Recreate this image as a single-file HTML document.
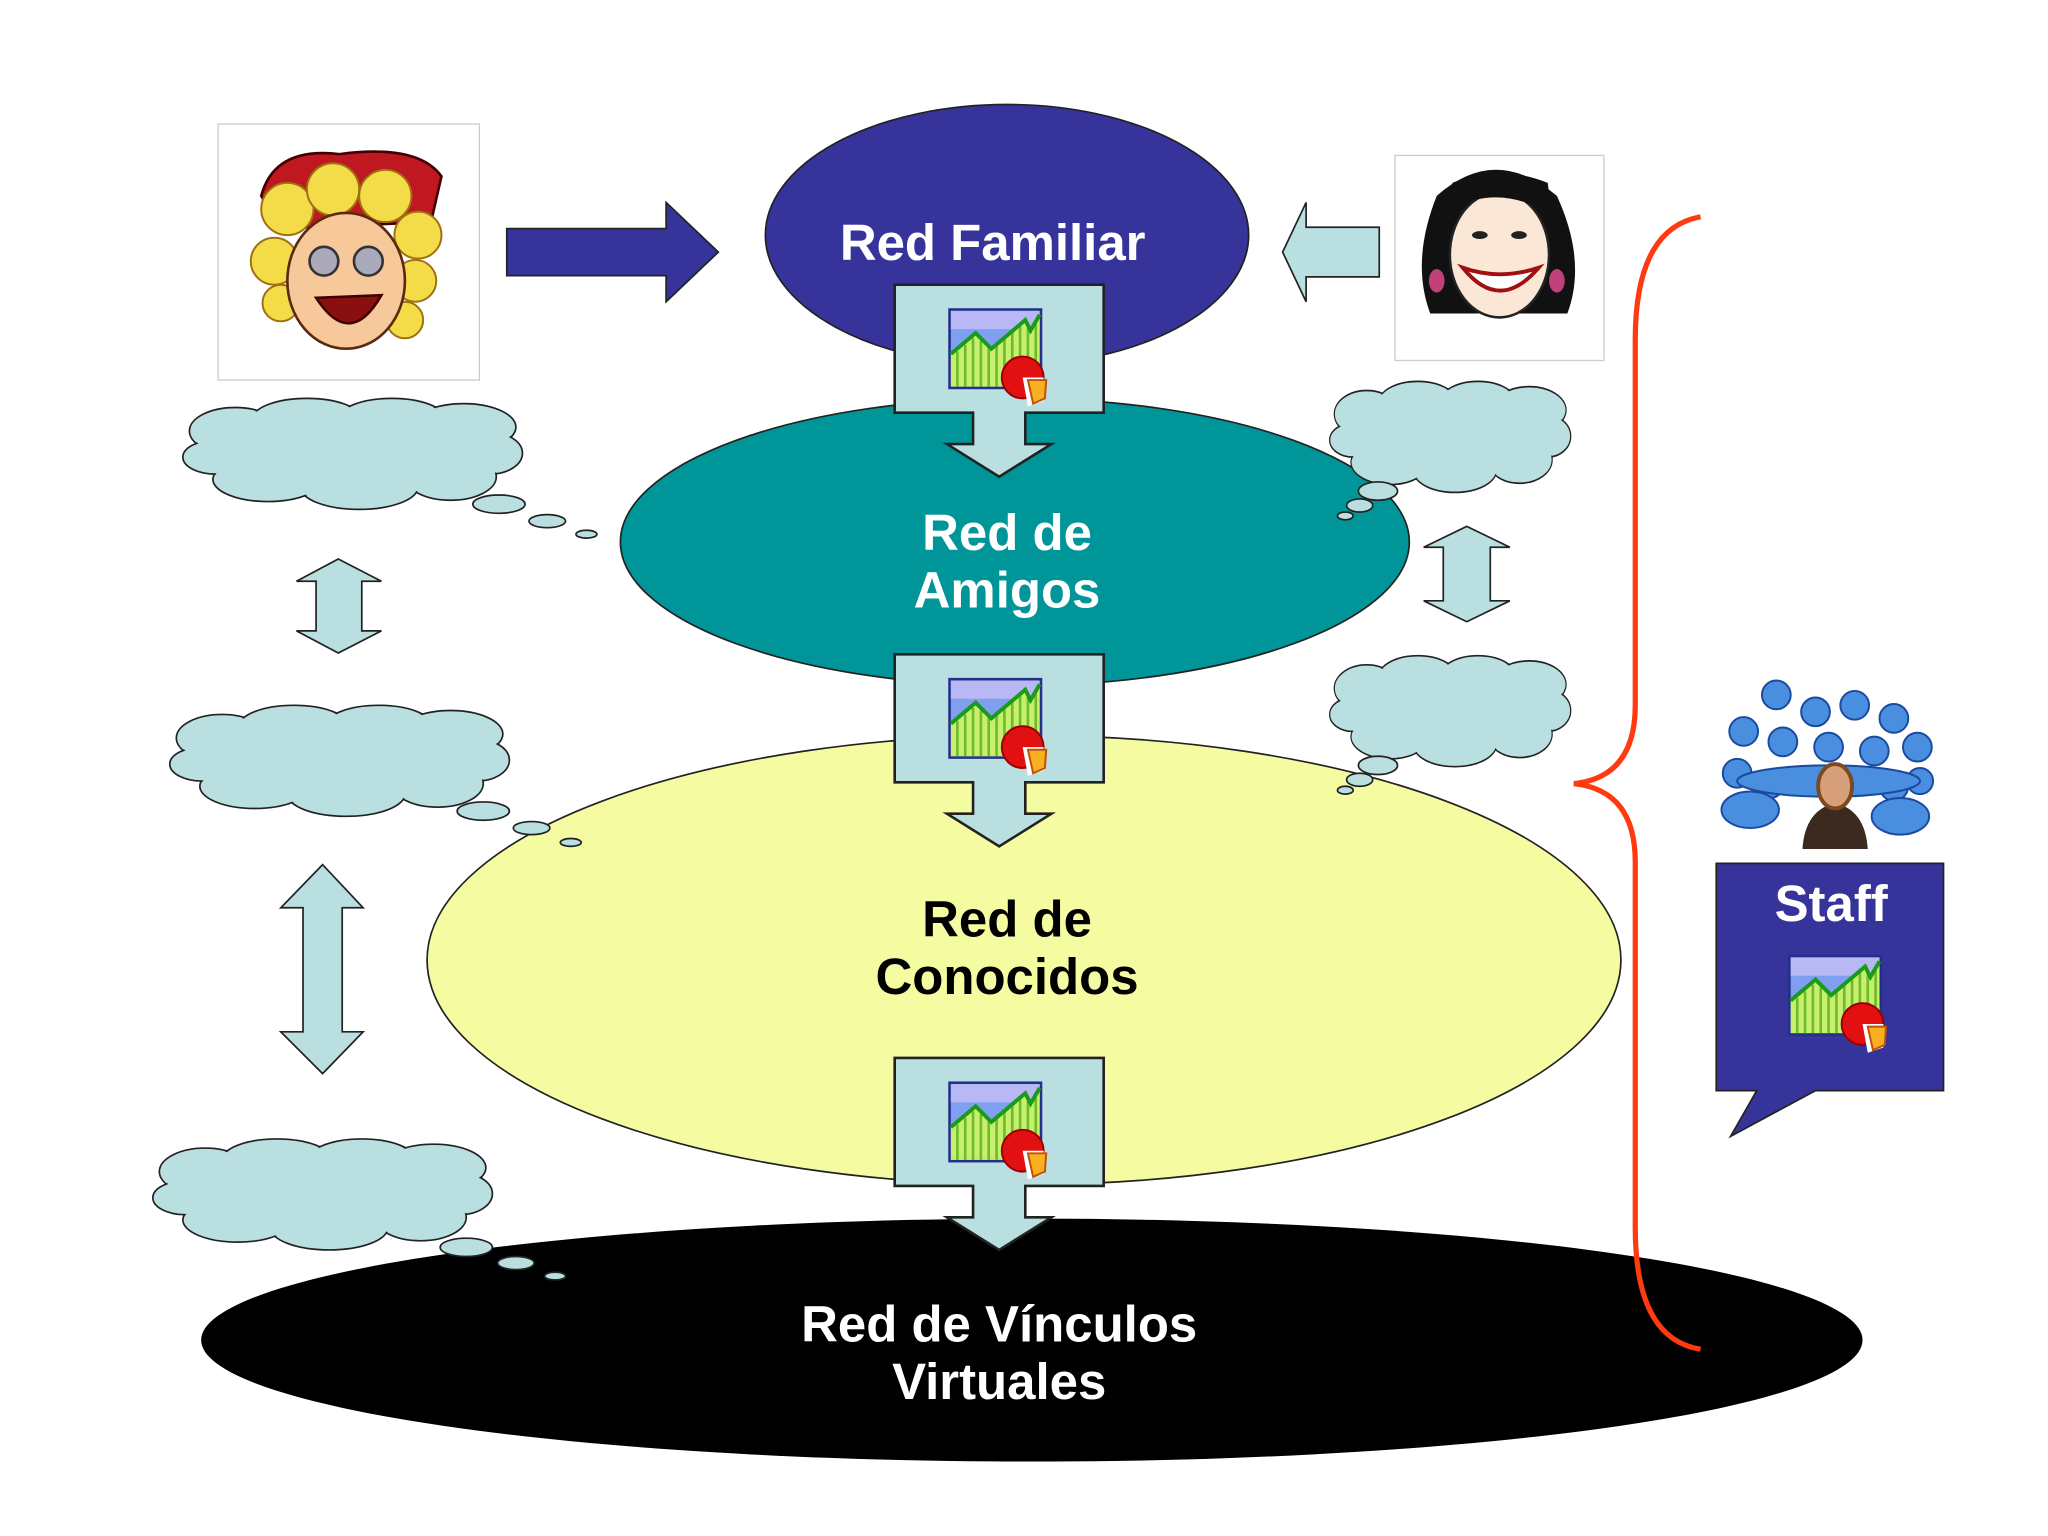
<!DOCTYPE html>
<html><head><meta charset="utf-8"><style>html,body{margin:0;padding:0;background:#fff}svg{display:block}
text{font-family:"Liberation Sans",Arial,sans-serif;font-weight:bold}</style></head>
<body>
<svg width="2048" height="1536" viewBox="0 0 1568 1176" preserveAspectRatio="none" xmlns="http://www.w3.org/2000/svg">
<defs>
<g id="chart">
 <rect x="0" y="0" width="70" height="60" fill="#7fa0f0" stroke="#23308a" stroke-width="2"/>
 <rect x="1" y="1" width="68" height="14" fill="#b8b8f4"/>
 <path d="M1,34 L20,18 L32,30 L58,8 L62,16 L69,4 L69,59 L1,59Z" fill="#c8ee70"/>
 <g stroke="#6cbc28" stroke-width="2">
 <line x1="6" y1="32" x2="6" y2="59"/><line x1="12" y1="27" x2="12" y2="59"/><line x1="18" y1="22" x2="18" y2="59"/><line x1="24" y1="24" x2="24" y2="59"/><line x1="30" y1="29" x2="30" y2="59"/><line x1="36" y1="26" x2="36" y2="59"/><line x1="42" y1="22" x2="42" y2="59"/><line x1="48" y1="17" x2="48" y2="59"/><line x1="54" y1="12" x2="54" y2="59"/><line x1="60" y1="14" x2="60" y2="59"/><line x1="66" y1="8" x2="66" y2="59"/></g>
 <path d="M1,34 L20,18 L32,30 L58,8 L62,16 L69,4" fill="none" stroke="#1a9a1a" stroke-width="3"/>
 <circle cx="56" cy="52" r="16" fill="#e21010" stroke="#900" stroke-width="1.5"/>
 <path d="M56,52 L72,52 L72,70 L60,74Z" fill="#fff"/>
 <path d="M60,54 L74,54 L73,68 L64,72Z" fill="#f9b020" stroke="#c0500a" stroke-width="1.5"/>
</g>
<g id="cloud">
 <g fill="#b9dfe1" stroke="#222" stroke-width="1.3">
  <ellipse cx="40" cy="25" rx="35" ry="18"/><ellipse cx="95" cy="16" rx="42" ry="16"/><ellipse cx="160" cy="15" rx="40" ry="15"/><ellipse cx="215" cy="22" rx="40" ry="18"/><ellipse cx="235" cy="42" rx="25" ry="16"/><ellipse cx="205" cy="60" rx="35" ry="18"/><ellipse cx="135" cy="68" rx="45" ry="17"/><ellipse cx="65" cy="62" rx="42" ry="17"/><ellipse cx="25" cy="45" rx="25" ry="13"/>
 </g>
 <g fill="#b9dfe1">
  <ellipse cx="40" cy="25" rx="34" ry="17"/><ellipse cx="95" cy="16" rx="41" ry="15"/><ellipse cx="160" cy="15" rx="39" ry="14"/><ellipse cx="215" cy="22" rx="39" ry="17"/><ellipse cx="235" cy="42" rx="24" ry="15"/><ellipse cx="205" cy="60" rx="34" ry="17"/><ellipse cx="135" cy="68" rx="44" ry="16"/><ellipse cx="65" cy="62" rx="41" ry="16"/><ellipse cx="25" cy="45" rx="24" ry="12"/><ellipse cx="130" cy="42" rx="110" ry="28"/>
 </g>
</g>
</defs>

<ellipse cx="790" cy="1026" rx="636" ry="93" fill="#000"/>
<ellipse cx="784" cy="735" rx="457" ry="172" fill="#f5fba0" stroke="#222" stroke-width="1.3"/>
<ellipse cx="777" cy="415" rx="302" ry="110" fill="#009699" stroke="#222" stroke-width="1.3"/>
<ellipse cx="771" cy="180" rx="185" ry="100" fill="#36349a" stroke="#222" stroke-width="1.3"/>

<g fill="#b9dfe1" stroke="#222" stroke-width="2">
 <path d="M685,218 H845 V316 H785 V340 H805 L765,365 L725,340 H745 V316 H685Z"/>
 <path d="M685,501 H845 V599 H785 V623 H805 L765,648 L725,623 H745 V599 H685Z"/>
 <path d="M685,810 H845 V908 H785 V932 H805 L765,957 L725,932 H745 V908 H685Z"/>
</g>
<use href="#chart" x="727" y="237"/>
<use href="#chart" x="727" y="520"/>
<use href="#chart" x="727" y="829"/>

<text x="760" y="199" font-size="39" fill="#fff" text-anchor="middle">Red Familiar</text>
<text x="771" y="421" font-size="39" fill="#fff" text-anchor="middle">Red de</text>
<text x="771" y="465" font-size="39" fill="#fff" text-anchor="middle">Amigos</text>
<text x="771" y="717" font-size="39" fill="#000" text-anchor="middle">Red de</text>
<text x="771" y="761" font-size="39" fill="#000" text-anchor="middle">Conocidos</text>
<text x="765" y="1027" font-size="39" fill="#fff" text-anchor="middle">Red de Vínculos</text>
<text x="765" y="1071" font-size="39" fill="#fff" text-anchor="middle">Virtuales</text>

<path d="M388,175 H510 V155 L550,193 L510,231 V211 H388Z" fill="#36349a" stroke="#222" stroke-width="1.3"/>
<path d="M1056,174 H1000 V155 L982,193 L1000,231 V212 H1056Z" fill="#b9dfe1" stroke="#222" stroke-width="1.3"/>

<rect x="167" y="95" width="200" height="196" fill="#fff" stroke="#ccc"/>
<g>
 <path d="M200,150 Q210,112 260,118 Q320,110 338,135 L330,170 L215,175Z" fill="#c01820" stroke="#400" stroke-width="2"/>
 <g fill="#f3dc48" stroke="#a07010" stroke-width="1.5">
  <circle cx="220" cy="160" r="20"/><circle cx="255" cy="145" r="20"/><circle cx="295" cy="150" r="20"/><circle cx="320" cy="180" r="18"/><circle cx="210" cy="200" r="18"/><circle cx="318" cy="215" r="16"/><circle cx="215" cy="232" r="14"/><circle cx="310" cy="245" r="14"/>
 </g>
 <ellipse cx="265" cy="215" rx="45" ry="52" fill="#f6c89a" stroke="#5a2a10" stroke-width="2"/>
 <circle cx="248" cy="200" r="11" fill="#aab" stroke="#333" stroke-width="2"/><circle cx="282" cy="200" r="11" fill="#aab" stroke="#333" stroke-width="2"/>
 <path d="M242,228 Q268,268 292,226Z" fill="#8a1010" stroke="#400" stroke-width="2"/>
</g>
<rect x="1068" y="119" width="160" height="157" fill="#fff" stroke="#ccc"/>
<g>
 <path d="M1100,150 Q1145,110 1192,150 Q1215,200 1200,240 L1095,240 Q1080,200 1100,150Z" fill="#111"/>
 <ellipse cx="1148" cy="195" rx="38" ry="48" fill="#fbe7d6" stroke="#222" stroke-width="2"/>
 <path d="M1110,160 Q1150,140 1188,165 L1185,140 Q1148,125 1112,140Z" fill="#111"/>
 <ellipse cx="1133" cy="180" rx="6" ry="3" fill="#222"/><ellipse cx="1163" cy="180" rx="6" ry="3" fill="#222"/>
 <path d="M1120,205 Q1148,240 1178,205 Q1148,215 1120,205Z" fill="#fff" stroke="#a01010" stroke-width="3"/>
 <ellipse cx="1100" cy="215" rx="6" ry="9" fill="#c0407a"/><ellipse cx="1192" cy="215" rx="6" ry="9" fill="#c0407a"/>
</g>

<use href="#cloud" transform="translate(140,305)"/>
<use href="#cloud" transform="translate(130,540)"/>
<use href="#cloud" transform="translate(117,872)"/>
<use href="#cloud" transform="translate(1018,292) scale(0.71,1)"/>
<use href="#cloud" transform="translate(1018,502) scale(0.71,1)"/>
<g fill="#b9dfe1" stroke="#222" stroke-width="1.3">
 <ellipse cx="382" cy="386" rx="20" ry="7"/><ellipse cx="419" cy="399" rx="14" ry="5"/><ellipse cx="449" cy="409" rx="8" ry="3"/>
 <ellipse cx="370" cy="621" rx="20" ry="7"/><ellipse cx="407" cy="634" rx="14" ry="5"/><ellipse cx="437" cy="645" rx="8" ry="3"/>
 <ellipse cx="357" cy="955" rx="20" ry="7"/><ellipse cx="395" cy="967" rx="14" ry="5"/><ellipse cx="425" cy="977" rx="8" ry="3"/>
 <ellipse cx="1055" cy="376" rx="15" ry="7"/><ellipse cx="1041" cy="387" rx="10" ry="5"/><ellipse cx="1030" cy="395" rx="6" ry="3"/>
 <ellipse cx="1055" cy="586" rx="15" ry="7"/><ellipse cx="1041" cy="597" rx="10" ry="5"/><ellipse cx="1030" cy="605" rx="6" ry="3"/>
</g>

<g fill="#b9dfe1" stroke="#222" stroke-width="1.3">
 <path d="M259,428 L292,445 H277 V483 H292 L259,500 L227,483 H242 V445 H227Z"/>
 <path d="M247,662 L278,695 H262 V790 H278 L247,822 L215,790 H232 V695 H215Z"/>
 <path d="M1123,403 L1156,419 H1141 V460 H1156 L1123,476 L1090,460 H1105 V419 H1090Z"/>
</g>

<path d="M1302,166 Q1252,175 1252,260 L1252,540 Q1252,595 1205,600 Q1252,605 1252,660 L1252,940 Q1252,1025 1302,1033" fill="none" stroke="#ff3a10" stroke-width="4"/>

<g fill="#4a8ee0" stroke="#1a4aa0" stroke-width="1.5">
 <circle cx="1360" cy="532" r="11"/><circle cx="1390" cy="545" r="11"/><circle cx="1420" cy="540" r="11"/><circle cx="1450" cy="550" r="11"/><circle cx="1468" cy="572" r="11"/>
 <circle cx="1335" cy="560" r="11"/><circle cx="1365" cy="568" r="11"/><circle cx="1400" cy="572" r="11"/><circle cx="1435" cy="575" r="11"/>
 <circle cx="1330" cy="592" r="11"/><circle cx="1355" cy="600" r="11"/><circle cx="1450" cy="602" r="11"/><circle cx="1470" cy="598" r="10"/>
 <ellipse cx="1340" cy="620" rx="22" ry="14"/><ellipse cx="1455" cy="625" rx="22" ry="14"/><ellipse cx="1400" cy="598" rx="70" ry="12"/>
</g>
<path d="M1380,650 Q1382,620 1405,615 Q1428,620 1430,650Z" fill="#3a2a20"/>
<ellipse cx="1405" cy="602" rx="13" ry="17" fill="#d8a07a" stroke="#7a4a20" stroke-width="3"/>

<path d="M1314,661 H1488 V835 H1390 L1325,870 L1345,835 H1314Z" fill="#36349a" stroke="#222" stroke-width="1.3"/>
<text x="1402" y="705" font-size="39" fill="#fff" text-anchor="middle">Staff</text>
<use href="#chart" x="1370" y="732"/>
</svg>
</body></html>
